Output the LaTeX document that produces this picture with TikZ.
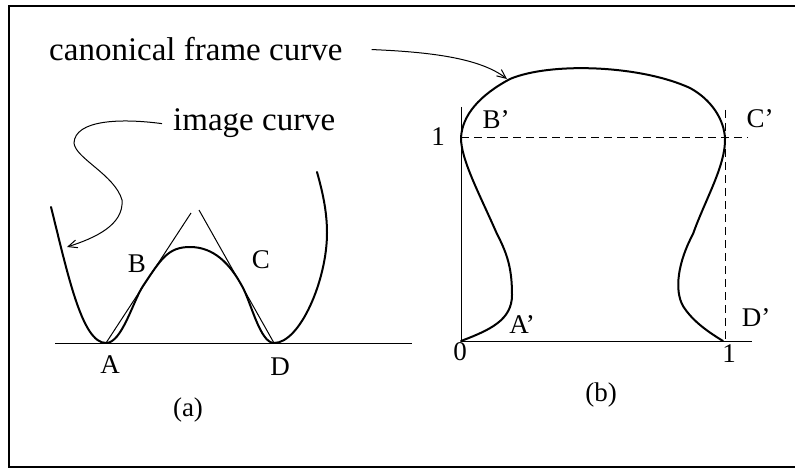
\documentclass[tikz,border=0pt]{standalone}
\usepackage{fontspec}
\setmainfont{Liberation Serif}
\usetikzlibrary{arrows.meta}
\tikzset{
  bigtxt/.style={font=\fontsize{33}{40}\selectfont, inner sep=0pt, anchor=base west},
  lab/.style={font=\fontsize{27}{32}\selectfont, inner sep=0pt},
  crv/.style={line width=2pt, line cap=round, line join=round},
  thinln/.style={line width=1pt},
  dashln/.style={line width=1pt, dash pattern=on 8pt off 5pt},
  pointer/.style={line width=1pt, -{Straight Barb[length=9pt,width=8pt]}}
}

\begin{document}
\begin{tikzpicture}[x=1pt, y=-1pt]
    \useasboundingbox (0,0) rectangle (795,468);
    % frame
    \draw[line width=1.5pt] (795,6) -- (9,6) -- (9,467) -- (795,467);

    % (a) image curve with its tangents
    \coordinate (A) at (106,343);
    \coordinate (D) at (274,343);
    \draw[thinln] (55,343) -- (412,343);
    \draw[thinln] (A) -- (191,213);
    \draw[thinln] (199,210) -- (D);
    \draw[crv] (51,207) .. controls (68,275) and (82,343) .. (A)
        .. controls (122,343) and (133,301) .. (143,286)
        .. controls (161,259) and (168,247) .. (190,247)
        .. controls (214,247) and (230,264) .. (242,286)
        .. controls (251,302) and (260,343) .. (D)
        .. controls (300,343) and (327,280) .. (327,233)
        .. controls (327,210) and (322,190) .. (317,172);
    \node[lab] (lblA) at (110,365) {A};
    \node[lab] (lblB) at (137,264) {B};
    \node[lab] (lblC) at (261,260) {C};
    \node[lab] (lblD) at (280,367) {D};
    \node[lab] (capa) at (188,410) {(a)};

    \node[bigtxt] (imgtxt) at (173,131) {image curve};
    \coordinate (imgtip) at (67,247);
    \draw[pointer] ([xshift=-11pt]imgtxt.west) .. controls (120,118) and (75,120) .. (74,143)
        .. controls (75,158) and (115,175) .. (122,200)
        .. controls (124,225) and (95,238) .. (imgtip);

    % (b) canonical frame
    \coordinate (O) at (461,341);
    \coordinate (Bp) at (461,138);
    \coordinate (Cp) at (725,138);
    \coordinate (Dp) at (723,341);
    \draw[thinln] (461,107) -- (O) -- (752,341);
    \draw[dashln] (Bp) -- (748,138);
    \draw[dashln] (725,110) -- (725,341);
    \draw[crv] (O) .. controls (490,330) and (512,320) .. (512,295)
        .. controls (512,270) and (508,255) .. (497,234)
        .. controls (480,195) and (461,160) .. (Bp)
        .. controls (462,115) and (480,95) .. (510,79)
        .. controls (550,62) and (640,65) .. (690,88)
        .. controls (712,100) and (724,120) .. (Cp)
        .. controls (726,165) and (705,200) .. (693,234)
        .. controls (678,262) and (674,290) .. (683,306)
        .. controls (693,322) and (710,333) .. (Dp);
    \node[lab] (one) at (438,137) {1};
    \node[lab] (lblBp) at (496,120) {B'};
    \node[lab] (lblCp) at (760,119) {C'};
    \node[lab] (lblAp) at (522,325) {A'};
    \node[lab] (lblDp) at (756,318) {D'};
    \node[lab] (zero) at (460,352) {0};
    \node[lab] (onex) at (729,354) {1};
    \node[lab] (capb) at (601,395) {(b)};

    \node[bigtxt] (canontxt) at (49,61) {canonical frame curve};
    \coordinate (canontip) at (507,79);
    \draw[pointer] ([xshift=29pt]canontxt.east) .. controls (430,52) and (480,58) .. (canontip);
\end{tikzpicture}
\end{document}
